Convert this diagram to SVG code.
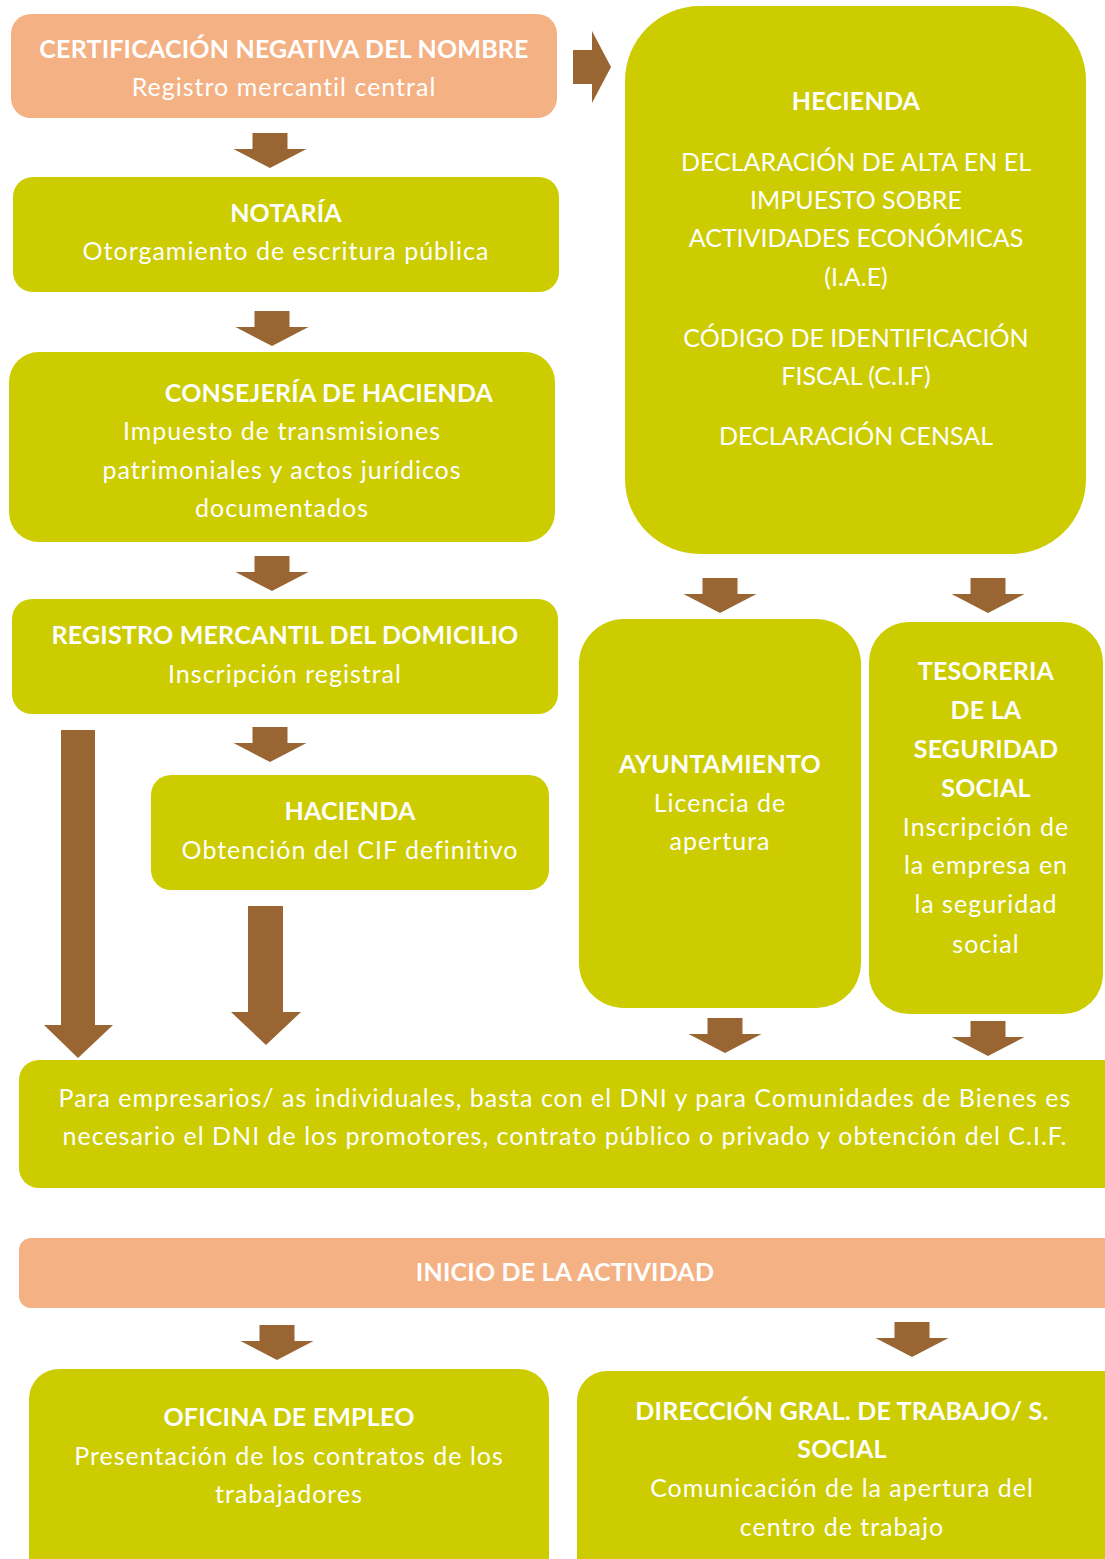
<svg xmlns="http://www.w3.org/2000/svg" xmlns:xlink="http://www.w3.org/1999/xlink" width="1105" height="1559" viewBox="0 0 1105 1559">
<style>
.g{fill:#cccc00}
.p{fill:#f4b183}
.a{fill:#996633}
text{font-family:Lato,"Liberation Sans",sans-serif;font-size:25px;fill:#ffffff;text-anchor:middle;letter-spacing:1px}
.b{font-weight:bold;letter-spacing:0.2px}
.u{letter-spacing:0}
</style>
<defs>
<path id="dn" class="a" d="M-17.5,0 H17.5 V16 H36.5 L0,35 L-36.5,16 H-17.5 Z"/>
</defs>
<rect width="1105" height="1559" fill="#ffffff"/>
<g id="connectors">
<path class="a" d="M573,50 H592 V31 L611,67 L592,103 V84 H573 Z"/>
<use xlink:href="#dn" x="270" y="133"/>
<use xlink:href="#dn" x="272" y="311"/>
<use xlink:href="#dn" x="272" y="556"/>
<use xlink:href="#dn" x="270" y="727"/>
<path class="a" d="M61,730 H95 V1025 H113 L78,1058 L44,1025 H61 Z"/>
<path class="a" d="M248,906 H283 V1012 H301 L266,1045 L231,1012 H248 Z"/>
<use xlink:href="#dn" x="720" y="578"/>
<use xlink:href="#dn" x="988" y="578"/>
<use xlink:href="#dn" x="725" y="1018"/>
<use xlink:href="#dn" x="988" y="1021"/>
<use xlink:href="#dn" x="277" y="1325"/>
<use xlink:href="#dn" x="912" y="1322"/>
</g>
<g id="n-certificacion">
<rect class="p" x="11" y="14" width="546" height="104" rx="20"/>
<text class="b" x="284" y="58">CERTIFICACIÓN NEGATIVA DEL NOMBRE</text>
<text x="284" y="96">Registro mercantil central</text>
</g>
<g id="n-notaria">
<rect class="g" x="13" y="177" width="546" height="115" rx="20"/>
<text class="b" x="286" y="222">NOTARÍA</text>
<text x="286" y="260">Otorgamiento de escritura pública</text>
</g>
<g id="n-consejeria">
<rect class="g" x="9" y="352" width="546" height="190" rx="30"/>
<text class="b" x="329" y="402">CONSEJERÍA DE HACIENDA</text>
<text x="282" y="440">Impuesto de transmisiones</text>
<text x="282" y="479">patrimoniales y actos jurídicos</text>
<text x="282" y="517">documentados</text>
</g>
<g id="n-registro">
<rect class="g" x="12" y="599" width="546" height="115" rx="20"/>
<text class="b" x="285" y="644">REGISTRO MERCANTIL DEL DOMICILIO</text>
<text x="285" y="683">Inscripción registral</text>
</g>
<g id="n-hacienda-cif">
<rect class="g" x="151" y="775" width="398" height="115" rx="20"/>
<text class="b" x="350" y="820">HACIENDA</text>
<text x="350" y="859">Obtención del CIF definitivo</text>
</g>
<g id="n-hecienda">
<rect class="g" x="625" y="6" width="461" height="548" rx="75"/>
<text class="b" x="856" y="110">HECIENDA</text>
<text class="u" x="856" y="171">DECLARACIÓN DE ALTA EN EL</text>
<text class="u" x="856" y="209">IMPUESTO SOBRE</text>
<text class="u" x="856" y="247">ACTIVIDADES ECONÓMICAS</text>
<text class="u" x="856" y="286">(I.A.E)</text>
<text class="u" x="856" y="347">CÓDIGO DE IDENTIFICACIÓN</text>
<text class="u" x="856" y="385">FISCAL (C.I.F)</text>
<text class="u" x="856" y="445">DECLARACIÓN CENSAL</text>
</g>
<g id="n-ayuntamiento">
<rect class="g" x="579" y="619" width="282" height="389" rx="45"/>
<text class="b" x="720" y="773">AYUNTAMIENTO</text>
<text x="720" y="812">Licencia de</text>
<text x="720" y="850">apertura</text>
</g>
<g id="n-tesoreria">
<rect class="g" x="869" y="622" width="234" height="392" rx="40"/>
<text class="b" x="986" y="680">TESORERIA</text>
<text class="b" x="986" y="719">DE LA</text>
<text class="b" x="986" y="758">SEGURIDAD</text>
<text class="b" x="986" y="797">SOCIAL</text>
<text x="986" y="836">Inscripción de</text>
<text x="986" y="874">la empresa en</text>
<text x="986" y="913">la seguridad</text>
<text x="986" y="953">social</text>
</g>
<g id="n-requisitos">
<rect class="g" x="19" y="1060" width="1110" height="128" rx="20"/>
<text x="565" y="1107">Para empresarios/ as individuales, basta con el DNI y para Comunidades de Bienes es</text>
<text x="565" y="1145">necesario el DNI de los promotores, contrato público o privado y obtención del C.I.F.</text>
</g>
<g id="n-inicio">
<rect class="p" x="19" y="1238" width="1110" height="70" rx="12"/>
<text class="b" x="565" y="1281">INICIO DE LA ACTIVIDAD</text>
</g>
<g id="n-oficina">
<rect class="g" x="29" y="1369" width="520" height="220" rx="30"/>
<text class="b" x="289" y="1426">OFICINA DE EMPLEO</text>
<text x="289" y="1465">Presentación de los contratos de los</text>
<text x="289" y="1503">trabajadores</text>
</g>
<g id="n-direccion">
<rect class="g" x="577" y="1371" width="560" height="220" rx="30"/>
<text class="b" x="842" y="1420">DIRECCIÓN GRAL. DE TRABAJO/ S.</text>
<text class="b" x="842" y="1458">SOCIAL</text>
<text x="842" y="1497">Comunicación de la apertura del</text>
<text x="842" y="1536">centro de trabajo</text>
</g>
</svg>
